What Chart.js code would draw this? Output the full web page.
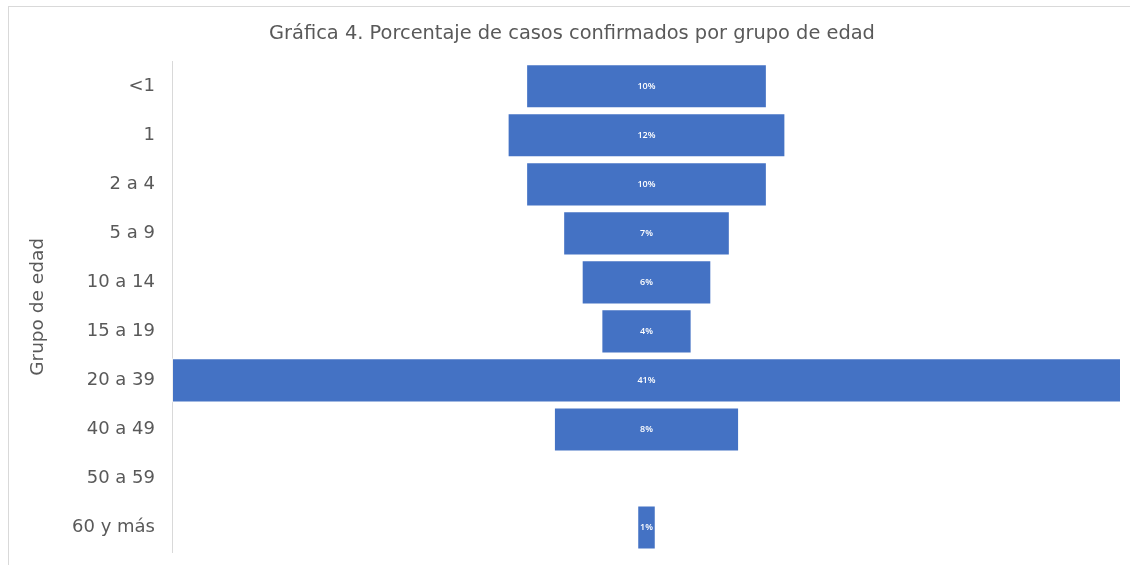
<!DOCTYPE html>
<html>
<head>
<meta charset="utf-8">
<script src="https://cdn.jsdelivr.net/npm/chart.js@4.4.1/dist/chart.umd.min.js"></script>
<style>
  html, body { margin: 0; padding: 0; background: #fff; }
  #wrap { position: relative; width: 1130px; height: 565px; }
  #frame { position: absolute; left: 8px; top: 6px; right: -4px; bottom: -4px;
           border-top: 1px solid #d9d9d9; border-left: 1px solid #d9d9d9; }
  canvas { position: absolute; left: 0; top: 0; }
</style>
</head>
<body>
<div id="wrap">
  <div id="frame"></div>
  <canvas id="chart" width="1130" height="565"></canvas>
</div>
<script>
// Datos
const grupos = ['<1', '1', '2 a 4', '5 a 9', '10 a 14', '15 a 19', '20 a 39', '40 a 49', '50 a 59', '60 y más'];
const porcentajes = [10.4, 12.0, 10.4, 7.2, 5.6, 3.9, 41.0, 8.0, 0, 0.8];
const etiquetas = ['10%', '12%', '10%', '7%', '6%', '4%', '41%', '8%', '', '1%'];

const fontFamily = "'DejaVu Sans', 'Open Sans', sans-serif";
const grisTexto = '#595959';

// Etiquetas blancas centradas dentro de cada barra
const etiquetasBarras = {
  id: 'etiquetasBarras',
  afterDatasetsDraw(chart) {
    const ctx = chart.ctx;
    const meta = chart.getDatasetMeta(0);
    ctx.save();
    ctx.fillStyle = '#ffffff';
    ctx.font = "600 9px 'Open Sans', sans-serif";
    ctx.textAlign = 'center';
    ctx.textBaseline = 'middle';
    meta.data.forEach((bar, i) => {
      if (!etiquetas[i]) return;
      const p = bar.getCenterPoint();
      ctx.fillText(etiquetas[i], p.x, p.y);
    });
    ctx.restore();
  }
};

const ctx = document.getElementById('chart').getContext('2d');
new Chart(ctx, {
  type: 'bar',
  data: {
    labels: grupos,
    datasets: [{
      // barras centradas (embudo)
      data: porcentajes.map(v => [-v / 2, v / 2]),
      backgroundColor: '#4472C4',
      borderColor: 'rgba(255,255,255,0.6)',
      borderWidth: 1,
      borderSkipped: false,
      barPercentage: 0.9,
      categoryPercentage: 1.0
    }]
  },
  options: {
    indexAxis: 'y',
    responsive: false,
    animation: false,
    layout: { padding: { left: 23, right: 9, top: 0, bottom: 13 } },
    plugins: {
      legend: { display: false },
      tooltip: { enabled: false },
      title: {
        display: true,
        text: 'Gráfica 4. Porcentaje de casos confirmados por grupo de edad',
        color: grisTexto,
        font: { family: fontFamily, size: 19.4, weight: 'normal' },
        padding: { top: 22, bottom: 16.5 }
      }
    },
    scales: {
      x: {
        display: false,
        min: -20.5,
        max: 20.5
      },
      y: {
        afterFit(scale) {
          scale.width = 149;
          // sin relleno extra arriba/abajo por las etiquetas
          scale.paddingTop = 0;
          scale.paddingBottom = 0;
        },
        grid: { display: false, drawTicks: false },
        border: { display: true, color: '#d9d9d9', width: 1 },
        ticks: {
          color: grisTexto,
          padding: 17,
          font: { family: fontFamily, size: 18 }
        },
        title: {
          display: true,
          text: 'Grupo de edad',
          color: grisTexto,
          font: { family: fontFamily, size: 18.5 }
        }
      }
    }
  },
  plugins: [etiquetasBarras]
});
</script>
</body>
</html>
